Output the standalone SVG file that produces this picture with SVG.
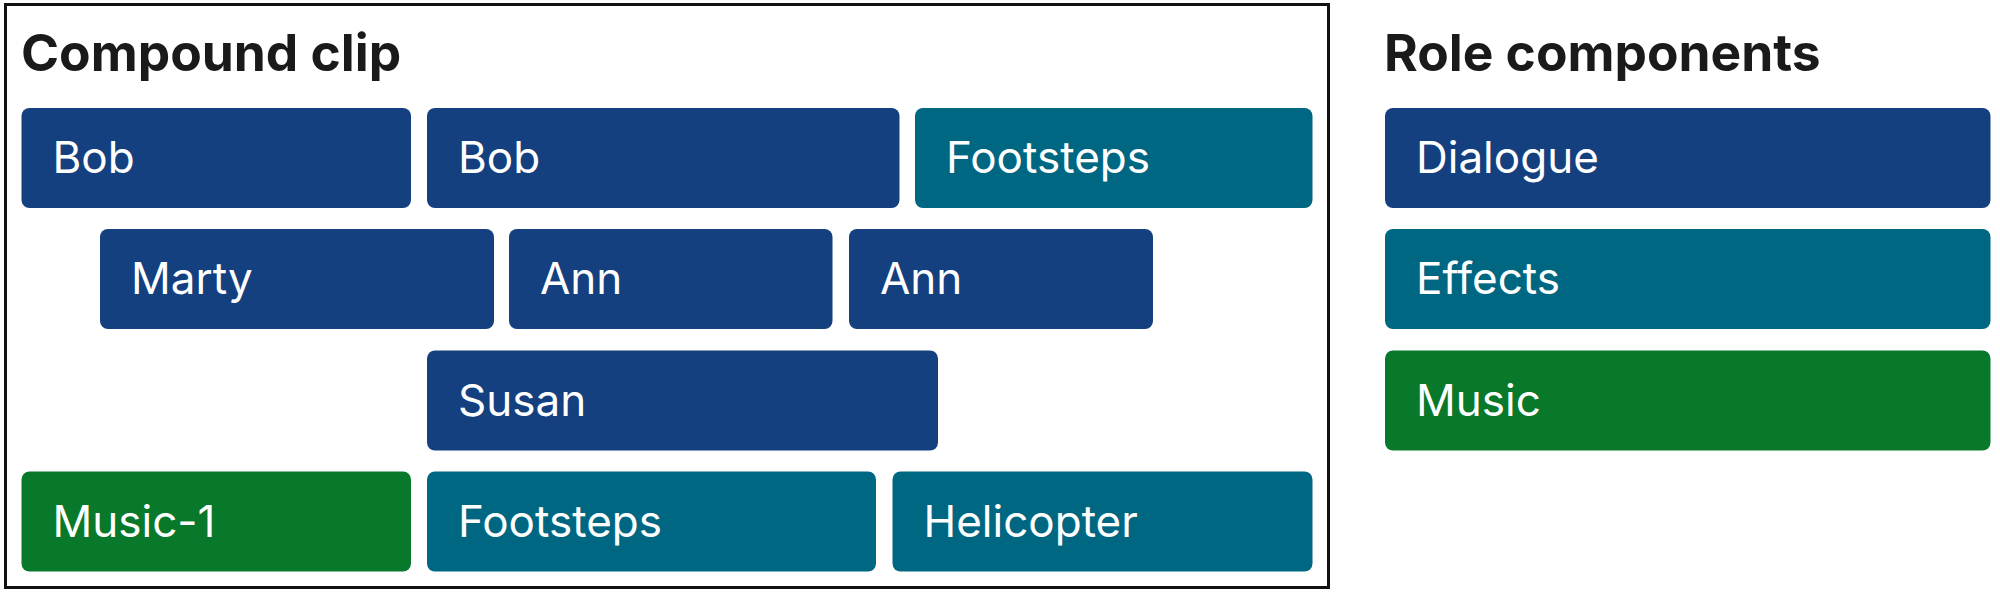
<svg xmlns="http://www.w3.org/2000/svg" width="2000" height="595" viewBox="0 0 2000 595">
<style>
.title{font-family:Inter,"Liberation Sans",sans-serif;font-weight:700;font-size:51.5px;fill:#1a1a1a}
.lbl{font-family:Inter,"Liberation Sans",sans-serif;font-size:44px;fill:#ffffff}
.dlg{fill:#144080}
.fx{fill:#006782}
.mus{fill:#08782a}
</style>
<rect x="5.5" y="4.5" width="1323" height="583" fill="none" stroke="#111" stroke-width="3"/>
<text class="title" x="21" y="71">Compound clip</text>
<text class="title" x="1384" y="71">Role components</text>
<g id="bob1"><rect class="dlg" x="21.5" y="108" width="389.5" height="100" rx="8"/><text class="lbl" x="52.5" y="173">Bob</text></g>
<g id="bob2"><rect class="dlg" x="427" y="108" width="472.5" height="100" rx="8"/><text class="lbl" x="458" y="173">Bob</text></g>
<g id="footsteps1"><rect class="fx" x="915" y="108" width="397.5" height="100" rx="8"/><text class="lbl" x="946" y="173">Footsteps</text></g>
<g id="marty"><rect class="dlg" x="100" y="229" width="394" height="100" rx="8"/><text class="lbl" x="131" y="294">Marty</text></g>
<g id="ann1"><rect class="dlg" x="509" y="229" width="323.5" height="100" rx="8"/><text class="lbl" x="540" y="294">Ann</text></g>
<g id="ann2"><rect class="dlg" x="849" y="229" width="304" height="100" rx="8"/><text class="lbl" x="880" y="294">Ann</text></g>
<g id="susan"><rect class="dlg" x="427" y="350.5" width="511" height="100" rx="8"/><text class="lbl" x="458" y="415.5">Susan</text></g>
<g id="music1"><rect class="mus" x="21.5" y="471.5" width="389.5" height="100" rx="8"/><text class="lbl" x="52.5" y="536.5">Music-1</text></g>
<g id="footsteps2"><rect class="fx" x="427" y="471.5" width="449" height="100" rx="8"/><text class="lbl" x="458" y="536.5">Footsteps</text></g>
<g id="helicopter"><rect class="fx" x="892.5" y="471.5" width="420" height="100" rx="8"/><text class="lbl" x="923.5" y="536.5">Helicopter</text></g>
<g id="dialogue"><rect class="dlg" x="1385" y="108" width="605.5" height="100" rx="8"/><text class="lbl" x="1416" y="173">Dialogue</text></g>
<g id="effects"><rect class="fx" x="1385" y="229" width="605.5" height="100" rx="8"/><text class="lbl" x="1416" y="294">Effects</text></g>
<g id="music"><rect class="mus" x="1385" y="350.5" width="605.5" height="100" rx="8"/><text class="lbl" x="1416" y="415.5">Music</text></g>
<g id="connectors"/>
</svg>
